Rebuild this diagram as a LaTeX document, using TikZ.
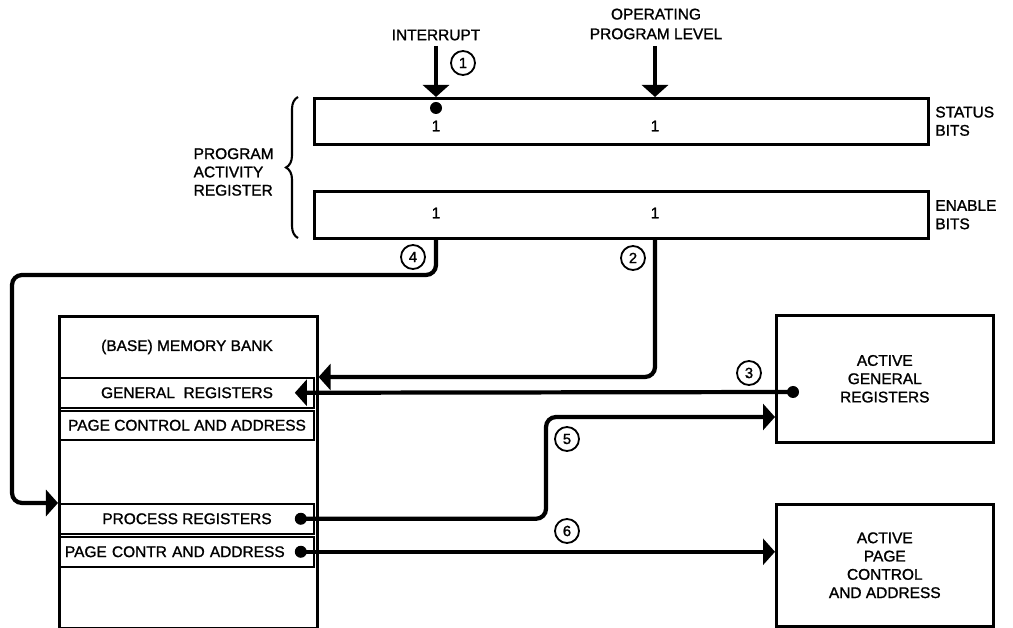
\documentclass[tikz,border=0pt]{standalone}
\usepackage{fontspec}
\setmainfont{Liberation Sans}[FakeBold=1.3]
\usepackage{tikz}
\usetikzlibrary{arrows.meta, positioning, calc, decorations.pathreplacing}

\begin{document}
\begin{tikzpicture}[
x=0.025cm, y=-0.025cm,
>={Triangle[length=3mm, width=6.5mm]},
every node/.style={inner sep=1pt, font=\fontsize{11}{13}\selectfont},
box/.style={draw, line width=1.8pt, anchor=north west},
row/.style={draw, line width=1.1pt, anchor=north, minimum width=6.35cm},
wire/.style={line width=3pt, rounded corners=2.5mm},
num/.style={circle, draw, line width=1.3pt, minimum size=6mm, inner sep=0, font=\fontsize{10.5}{12}\selectfont},
dot/.style={circle, fill, minimum size=3mm, inner sep=0},
bit/.style={font=\fontsize{11}{13}\selectfont}
]
\useasboundingbox (0,0) rectangle (1013,628);

% --- Registre d'activite ---
\node[box, minimum width=15.35cm, minimum height=1.15cm] (status) at (313,97) {};
\node[box, minimum width=15.35cm, minimum height=1.175cm] (enable) at (313,190) {};
\node[right=1mm of status.east, align=left] (stlab) {STATUS\\BITS};
\node[right=1mm of enable.east, align=left] (enlab) {ENABLE\\BITS};

\draw[decorate, decoration={brace, amplitude=3mm}, line width=1.5pt] (298,238) -- (298,97);
\node[anchor=west, align=left] (par) at (192,172) {PROGRAM\\ACTIVITY\\REGISTER};

\node[dot] (intdot) at (436,108) {};
\node[bit] at (436,126) {1};
\node[bit] at (655,126) {1};
\node[bit] at (436,213) {1};
\node[bit] at (655,213) {1};

% --- Entrees du haut ---
\node (intlab) at (436,35) {INTERRUPT};
\node[align=center, font=\fontsize{11}{14}\selectfont] (oplab) at (656,24) {OPERATING\\PROGRAM LEVEL};
\coordinate (intin) at (436,46);
\coordinate (opin) at (655,46);
\draw[wire, ->] (intin) -- (intin |- status.north);
\draw[wire, ->] (opin) -- (opin |- status.north);
\node[num] (n1) at (463,63) {1};

% --- Banc memoire ---
\node[box, minimum width=6.45cm, minimum height=7.8cm] (mem) at (58,315) {};
\node (bank) at (187,347) {(BASE) MEMORY BANK};
\node[row, minimum height=0.75cm] (genreg) at (187,377) {GENERAL~~REGISTERS};
\node[row, minimum height=0.725cm] (pagectl) at (187,410) {PAGE CONTROL AND ADDRESS};
\node[row, minimum height=0.75cm] (procreg) at (187,503) {PROCESS REGISTERS};
\node[row, minimum height=0.75cm, text width=6.1cm, align=left] (pagectr) at (187,536) {PAGE CONTR AND ADDRESS};

% --- Registres actifs ---
\node[box, minimum width=5.425cm, minimum height=3.175cm, align=center] (actgen) at (775,314) {ACTIVE\\GENERAL\\REGISTERS};
\node[box, minimum width=5.425cm, minimum height=3.05cm, align=center] (actpage) at (775,503) {ACTIVE\\PAGE\\CONTROL\\AND ADDRESS};

% --- Liaisons ---
% 4. vers les registres de processus
\coordinate (lft) at (12,275);
\draw[wire, ->] (intin |- enable.south) |- (lft) |- (procreg.north -| mem.west);
\node[num] (n4) at (413,257) {4};

% 2. vers les registres generaux
\draw[wire, ->] (opin |- enable.south) |- (genreg.north -| mem.east);
\node[num] (n2) at (633,258) {2};

% 3. sauvegarde des registres actifs
\node[dot] (gendot) at (793,392) {};
\draw[wire, ->] (gendot.center) -- ([xshift=-5mm]genreg.east);
\node[num] (n3) at (749,373) {3};

% 5. chargement des registres
\node[dot] (procdot) at ([xshift=-3.5mm]procreg.east) {};
\coordinate (bend5) at (546,417);
\draw[wire, ->] (procdot.center) -| (bend5) -- (bend5 -| actgen.west);
\node[num] (n5) at (567,439) {5};

% 6. controle de page
\node[dot] (pagedot) at ([xshift=-3.5mm]pagectr.east) {};
\draw[wire, ->] (pagedot.center) -- (pagedot.center -| actpage.west);
\node[num] (n6) at (567,531) {6};

\end{tikzpicture}
\end{document}
